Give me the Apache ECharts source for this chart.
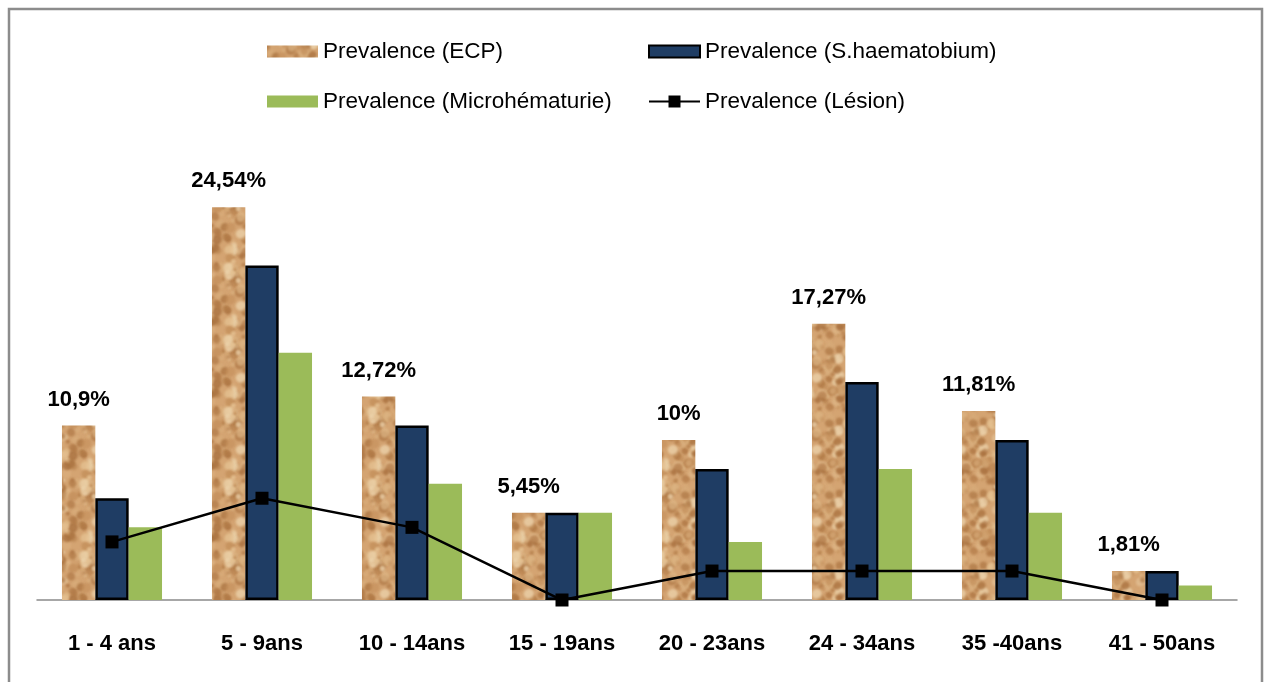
<!DOCTYPE html>
<html>
<head>
<meta charset="utf-8">
<title>Prevalence par tranche d'âge</title>
<script src="https://cdn.jsdelivr.net/npm/echarts@6/dist/echarts.min.js"></script>
<style>
  html, body { margin: 0; padding: 0; background: #ffffff; }
  #chart { width: 1266px; height: 682px; }
</style>
</head>
<body>
<div id="chart"></div>
<script>
// Age groups (x axis)
const categories = ['1 - 4 ans', '5 - 9ans', '10 - 14ans', '15 - 19ans', '20 - 23ans', '24 - 34ans', '35 -40ans', '41 - 50ans'];

// Prevalence values, in percent
const prevECP = [10.9, 24.54, 12.72, 5.45, 10, 17.27, 11.81, 1.81];
const prevHaematobium = [6.36, 20.9, 10.9, 5.45, 8.18, 13.63, 10, 1.81];
const prevMicrohematurie = [4.54, 15.45, 7.27, 5.45, 3.63, 8.18, 5.45, 0.91];
const prevLesion = [3.63, 6.36, 4.54, 0, 1.81, 1.81, 1.81, 0];

const seriesNames = ['Prevalence (ECP)', 'Prevalence (S.haematobium)', 'Prevalence (Microhématurie)', 'Prevalence (Lésion)'];

// Cork-like texture for the ECP bars, built from a small deterministic hash
function corkPattern() {
  const size = 72;
  const c = document.createElement('canvas');
  c.width = size; c.height = size;
  const ctx = c.getContext('2d');
  ctx.fillStyle = '#d4a472';
  ctx.fillRect(0, 0, size, size);
  let s = 24681;
  const next = () => { s = (s * 1103515245 + 12345) & 0x7fffffff; return s / 0x7fffffff; };
  const tones = ['#b27b48', '#c4905c', '#e4c090', '#ecd2aa', '#a9713f', '#d9ad7b'];
  ctx.filter = 'blur(0.8px)';
  for (let i = 0; i < 170; i++) {
    const x = next() * size, y = next() * size;
    const r = 1.5 + next() * 3.5;
    ctx.fillStyle = tones[Math.floor(next() * tones.length)];
    ctx.globalAlpha = 0.45 + next() * 0.45;
    // draw wrapped copies so the tile repeats seamlessly
    for (const dx of [-size, 0, size]) {
      for (const dy of [-size, 0, size]) {
        ctx.beginPath();
        ctx.ellipse(x + dx, y + dy, r, r * 1.1, (i % 7) * 0.45, 0, Math.PI * 2);
        ctx.fill();
      }
    }
  }
  ctx.globalAlpha = 1;
  ctx.filter = 'none';
  return c;
}

const labelFont = '"Liberation Sans", Arial, sans-serif';
const cork = { image: corkPattern(), repeat: 'repeat' };

const chart = echarts.init(document.getElementById('chart'), null, { renderer: 'canvas' });

function legendAt(name, left, top, icon, h) {
  const cfg = {
    data: [{ name: name }],
    left: left,
    top: top,
    itemWidth: 51,
    itemHeight: h,
    itemGap: 5,
    textStyle: { fontFamily: labelFont, fontSize: 22.5, color: '#000000' },
    selectedMode: false
  };
  if (icon) cfg.data[0].icon = icon;
  return cfg;
}

chart.setOption({
  animation: false,
  backgroundColor: '#ffffff',
  graphic: [{
    type: 'rect',
    shape: { x: 9, y: 9, width: 1253, height: 700 },
    style: { fill: 'none', stroke: '#8c8c8c', lineWidth: 2.5 },
    silent: true,
    z: 0
  }],
  legend: [
    legendAt(seriesNames[0], 262, 35, 'rect', 12),
    legendAt(seriesNames[1], 643, 35, 'rect', 12),
    legendAt(seriesNames[2], 262, 85, 'rect', 12),
    legendAt(seriesNames[3], 643, 85, null, 15)
  ],
  grid: { left: 37, right: 29, top: 120, bottom: 82, containLabel: false },
  xAxis: {
    type: 'category',
    data: categories,
    axisLine: { lineStyle: { color: '#8a8a8a', width: 1.5 } },
    axisTick: { show: false },
    axisLabel: {
      fontFamily: labelFont, fontSize: 22, fontWeight: 'bold', color: '#000000', margin: 33
    }
  },
  yAxis: {
    type: 'value',
    min: 0,
    max: 30,
    show: false,
    splitLine: { show: false }
  },
  series: [
    {
      name: seriesNames[0],
      type: 'bar',
      data: prevECP,
      barGap: '0%',
      barCategoryGap: '33.3%',
      itemStyle: { color: cork },
      label: {
        show: true,
        position: 'top',
        distance: 15,
        fontFamily: labelFont,
        fontSize: 22,
        fontWeight: 'bold',
        color: '#000000',
        formatter: p => String(p.value).replace('.', ',') + '%'
      }
    },
    {
      name: seriesNames[1],
      type: 'bar',
      data: prevHaematobium,
      itemStyle: { color: '#1f3d64', borderColor: '#000000', borderWidth: 2.5 }
    },
    {
      name: seriesNames[2],
      type: 'bar',
      data: prevMicrohematurie,
      itemStyle: { color: '#9bbb59' }
    },
    {
      name: seriesNames[3],
      type: 'line',
      data: prevLesion,
      symbol: 'rect',
      symbolSize: 13,
      z: 5,
      lineStyle: { color: '#000000', width: 2.5 },
      itemStyle: { color: '#000000' }
    }
  ]
});
</script>
</body>
</html>
